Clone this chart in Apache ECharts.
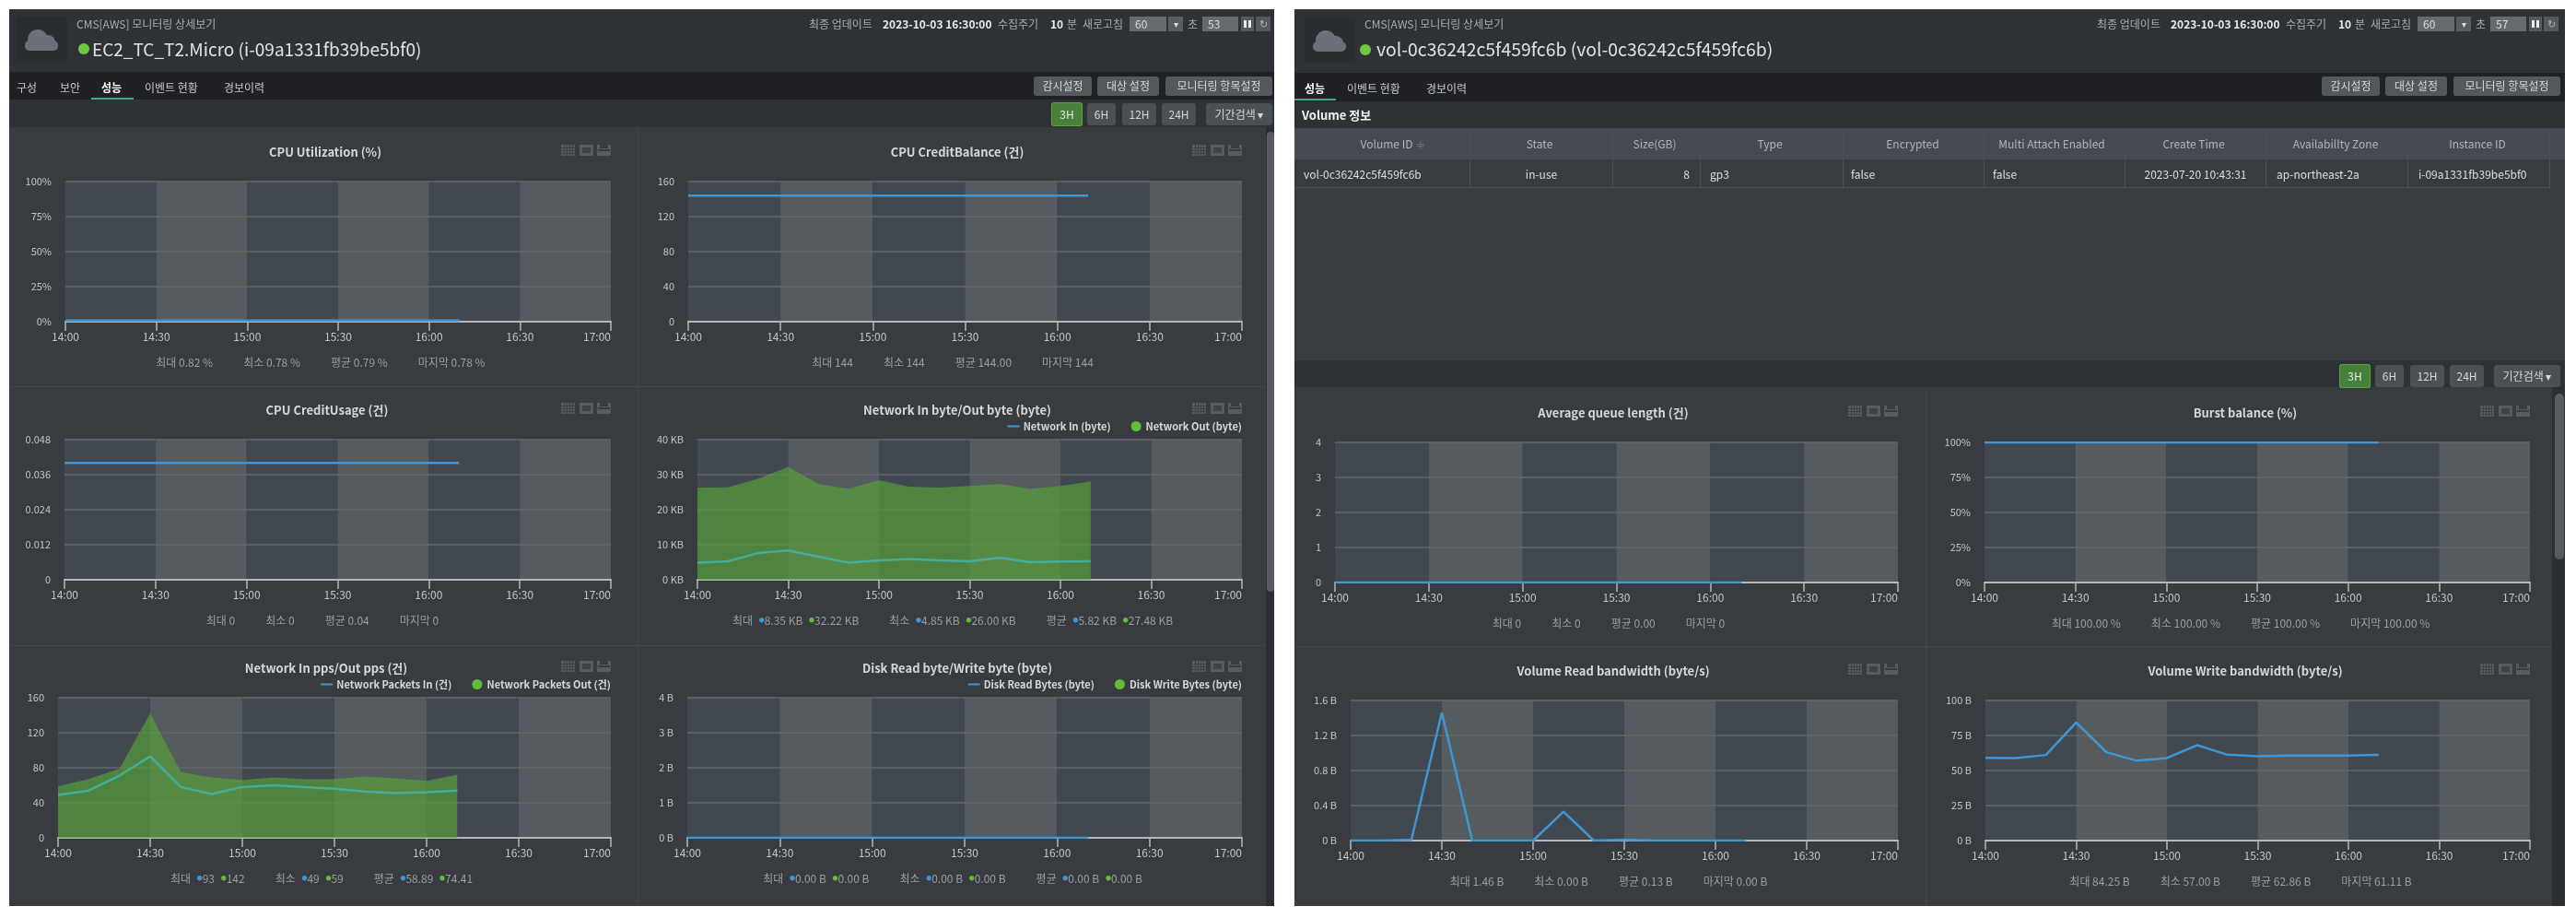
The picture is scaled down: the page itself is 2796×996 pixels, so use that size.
<!DOCTYPE html>
<html>
<head>
<meta charset="utf-8">
<title>CMS[AWS] 모니터링 상세보기</title>
<style>
  html, body { margin: 0; padding: 0; background: #fff; }
  /* the source screenshot is an upscaled capture, so everything sits slightly soft */
  #main { width: 2796px; height: 996px; filter: blur(0.6px); }
</style>
<script src="https://cdn.jsdelivr.net/npm/echarts@6/dist/echarts.min.js"></script>
</head>
<body>
<div id="main"></div>
<script>
// 10 minute samples, axis runs to 17:00 but data stops at 16:10
var timeLabels = ['14:00', '14:10', '14:20', '14:30', '14:40', '14:50', '15:00', '15:10', '15:20', '15:30',
  '15:40', '15:50', '16:00', '16:10', '16:20', '16:30', '16:40', '16:50', '17:00'];

var cpuUtilization = [0.80, 0.79, 0.78, 0.82, 0.80, 0.78, 0.79, 0.78, 0.79, 0.80, 0.78, 0.79, 0.79, 0.78];
var cpuCreditBalance = [144, 144, 144, 144, 144, 144, 144, 144, 144, 144, 144, 144, 144, 144];
var cpuCreditUsage = [0.04, 0.04, 0.04, 0.04, 0.04, 0.04, 0.04, 0.04, 0.04, 0.04, 0.04, 0.04, 0.04, 0.04];
var networkInByte = [4.9, 5.25, 7.6, 8.35, 6.6, 4.85, 5.5, 5.9, 5.5, 5.25, 6.3, 5.0, 5.2, 5.25];
var networkOutByte = [26.3, 26.4, 28.8, 32.22, 27.3, 26.0, 28.4, 26.6, 26.3, 26.8, 27.3, 26.0, 26.8, 28.0];
var networkInPps = [49, 54, 71, 93, 58, 50, 58, 60, 58, 56, 53, 51, 52, 54];
var networkOutPps = [59, 67, 79, 142, 75, 69, 66, 69, 67, 67, 70, 68, 65, 72];
var diskReadBytes = [0, 0, 0, 0, 0, 0, 0, 0, 0, 0, 0, 0, 0, 0];
var diskWriteBytes = [0, 0, 0, 0, 0, 0, 0, 0, 0, 0, 0, 0, 0, 0];
var avgQueueLength = [0, 0, 0, 0, 0, 0, 0, 0, 0, 0, 0, 0, 0, 0];
var burstBalance = [100, 100, 100, 100, 100, 100, 100, 100, 100, 100, 100, 100, 100, 100];
var volumeRead = [0, 0, 0.01, 1.46, 0, 0, 0, 0.33, 0, 0.01, 0, 0, 0, 0];
var volumeWrite = [59.1, 58.9, 61.1, 84.25, 63.1, 57, 58.9, 68.1, 61.3, 60.2, 60.7, 60.7, 60.7, 61.11];

var volumeColumns = ['Volume ID', 'State', 'Size(GB)', 'Type', 'Encrypted', 'Multi Attach Enabled', 'Create Time', 'Availabillty Zone', 'Instance ID'];
var volumeRow = ['vol-0c36242c5f459fc6b', 'in-use', '8', 'gp3', 'false', 'false', '2023-07-20 10:43:31', 'ap-northeast-2a', 'i-09a1331fb39be5bf0'];

var FONT = '"Noto Sans CJK KR", "Noto Sans", sans-serif';
var BLUE = '#3f96d2';
var TEAL = '#45ad9c'; // blue line as it reads through the green area
var GREEN = '#62bd39';

var charts = [
  {title: 'CPU Utilization (%)', x: 71, right: 663, top: 197, cx: 348, unit: '%', max: 100, step: 25,
    lines: [cpuUtilization], stats: [['최대', '0.82 %'], ['최소', '0.78 %'], ['평균', '0.79 %'], ['마지막', '0.78 %']]},
  {title: 'CPU CreditBalance (건)', x: 747, right: 1348, top: 197, cx: 1034, unit: '', max: 160, step: 40,
    lines: [cpuCreditBalance], stats: [['최대', '144'], ['최소', '144'], ['평균', '144.00'], ['마지막', '144']]},
  {title: 'CPU CreditUsage (건)', x: 70, right: 663, top: 477, cx: 350, unit: '', max: 0.048, step: 0.012,
    lines: [cpuCreditUsage], stats: [['최대', '0'], ['최소', '0'], ['평균', '0.04'], ['마지막', '0']]},
  {title: 'Network In byte/Out byte (byte)', x: 757, right: 1348, top: 477, cx: 1034, unit: ' KB', max: 40, step: 10,
    lines: [networkInByte], area: networkOutByte, lineColor: TEAL, names: ['Network In (byte)', 'Network Out (byte)'],
    stats: [['최대', '8.35 KB', '32.22 KB'], ['최소', '4.85 KB', '26.00 KB'], ['평균', '5.82 KB', '27.48 KB']]},
  {title: 'Network In pps/Out pps (건)', x: 63, right: 663, top: 757, cx: 349, unit: '', max: 160, step: 40,
    lines: [networkInPps], area: networkOutPps, lineColor: TEAL, names: ['Network Packets In (건)', 'Network Packets Out (건)'],
    stats: [['최대', '93', '142'], ['최소', '49', '59'], ['평균', '58.89', '74.41']]},
  {title: 'Disk Read byte/Write byte (byte)', x: 746, right: 1348, top: 757, cx: 1034, unit: ' B', max: 4, step: 1,
    lines: [diskReadBytes], area: diskWriteBytes, names: ['Disk Read Bytes (byte)', 'Disk Write Bytes (byte)'],
    stats: [['최대', '0.00 B', '0.00 B'], ['최소', '0.00 B', '0.00 B'], ['평균', '0.00 B', '0.00 B']]},
  {title: 'Average queue length (건)', x: 1449, right: 2060, top: 480, cx: 1746, unit: '', max: 4, step: 1,
    lines: [avgQueueLength], stats: [['최대', '0'], ['최소', '0'], ['평균', '0.00'], ['마지막', '0']]},
  {title: 'Burst balance (%)', x: 2154, right: 2746, top: 480, cx: 2432, unit: '%', max: 100, step: 25,
    lines: [burstBalance], stats: [['최대', '100.00 %'], ['최소', '100.00 %'], ['평균', '100.00 %'], ['마지막', '100.00 %']]},
  {title: 'Volume Read bandwidth (byte/s)', x: 1466, right: 2060, top: 760, cx: 1746, unit: ' B', max: 1.6, step: 0.4,
    lines: [volumeRead], stats: [['최대', '1.46 B'], ['최소', '0.00 B'], ['평균', '0.13 B'], ['마지막', '0.00 B']]},
  {title: 'Volume Write bandwidth (byte/s)', x: 2155, right: 2746, top: 760, cx: 2432, unit: ' B', max: 100, step: 25,
    lines: [volumeWrite], stats: [['최대', '84.25 B'], ['최소', '57.00 B'], ['평균', '62.86 B'], ['마지막', '61.11 B']]}
];

var gfx = [];

function box(x, y, w, h, fill, r, z) {
  gfx.push({type: 'rect', z: z === undefined ? -10 : z, silent: true,
    shape: {x: x, y: y, width: w, height: h, r: r || 0}, style: {fill: fill}});
}

function label(x, y, text, color, size, weight, align) {
  gfx.push({type: 'text', z: 20, silent: true, x: x, y: y, style: {
    text: text, fill: color, fontSize: size, fontWeight: weight || 'normal', fontFamily: FONT,
    align: align || 'left', verticalAlign: 'middle'
  }});
}

function button(x1, x2, y1, y2, text, fill, color) {
  box(x1, y1, x2 - x1, y2 - y1, fill, 3, -5);
  label((x1 + x2) / 2, (y1 + y2) / 2, text, color || '#d5d7d9', 12, 'normal', 'center');
}

function cloudIcon(dx, dy) {
  box(18 + dx, 18 + dy, 55, 49, '#292c31', 0, -5);
  gfx.push({type: 'circle', z: -4, silent: true, shape: {cx: 41 + dx, cy: 43 + dy, r: 11}, style: {fill: '#6d7076'}});
  gfx.push({type: 'circle', z: -4, silent: true, shape: {cx: 52 + dx, cy: 46 + dy, r: 8}, style: {fill: '#6d7076'}});
  box(27 + dx, 44 + dy, 36, 11, '#6d7076', 5, -4);
}

function panelHeader(dx, name, nameSize, seconds, tabs, activeTab, activeX1, activeX2, tabDy) {
  cloudIcon(dx, dx ? 1 : 0);
  label(83 + dx, 26, 'CMS[AWS] 모니터링 상세보기', '#a9abae', 12);
  gfx.push({type: 'circle', z: 20, silent: true, shape: {cx: 91 + dx - (dx ? 7 : 0), cy: 53 + (dx ? 1 : 0), r: 6}, style: {fill: '#6fc83f'}});
  label(100 + dx - (dx ? 4 : 0), 54, name, '#dfe1e3', nameSize);

  tabs.forEach(function (t, i) {
    label(t[0], 95 + tabDy, t[1], i === activeTab ? '#ffffff' : '#c6c8ca', 12, i === activeTab ? 'bold' : 'normal');
  });
  box(activeX1, 106 + tabDy, activeX2 - activeX1, 2, '#3fa98f', 0, -4);

  label(878 + dx, 26, '최종 업데이트', '#a9abae', 12);
  label(958 + dx, 26, '2023-10-03 16:30:00', '#e8e9ea', 12, 'bold');
  label(1083 + dx, 26, '수집주기', '#a9abae', 12);
  label(1140 + dx, 26, '10', '#e8e9ea', 12, 'bold');
  label(1158 + dx, 26, '분', '#a9abae', 12);
  label(1175 + dx, 26, '새로고침', '#a9abae', 12);
  box(1226 + dx, 18, 40, 16, '#66696d', 0, -5);
  label(1232 + dx, 26, '60', '#dcdde0', 12);
  box(1268 + dx, 18, 16, 16, '#5a5d61', 0, -5);
  label(1276 + dx, 26, '▾', '#dcdde0', 10, 'normal', 'center');
  label(1289 + dx, 26, '초', '#a9abae', 12);
  box(1305 + dx, 18, 39, 16, '#66696d', 0, -5);
  label(1311 + dx, 26, seconds, '#dcdde0', 12);
  box(1347 + dx, 18, 14, 16, '#55585c', 0, -5);
  box(1350 + dx, 22, 3, 8, '#e8e9ea', 0, -4);
  box(1355 + dx, 22, 3, 8, '#e8e9ea', 0, -4);
  box(1363 + dx, 18, 16, 16, '#55585c', 0, -5);
  label(1371 + dx, 26, '↻', '#b5b7ba', 11, 'normal', 'center');

  button(1122 + dx, 1185 + dx, 83, 104, '감시설정', '#53585c');
  button(1191 + dx, 1258 + dx, 83, 104, '대상 설정', '#53585c');
  button(1265 + dx, 1381 + dx, 83, 104, '모니터링 항목설정', '#53585c');
}

function rangeButtons(dx, dy) {
  box(1142 + dx - 1, 112 + dy - 1, 34, 26, '#5da63a', 3, -6);
  button(1142 + dx, 1174 + dx, 112 + dy, 136 + dy, '3H', '#47803a', '#e6e8e9');
  button(1180 + dx, 1211 + dx, 112 + dy, 136 + dy, '6H', '#4b5054');
  button(1218 + dx, 1255 + dx, 112 + dy, 136 + dy, '12H', '#4b5054');
  button(1261 + dx, 1298 + dx, 112 + dy, 136 + dy, '24H', '#4b5054');
  button(1309 + dx, 1381 + dx, 112 + dy, 136 + dy, '기간검색 ▾', '#4b5054');
}

function chartIcons(right, y) {
  var lefts = [right - 54, right - 34, right - 15];
  lefts.forEach(function (x) { box(x, y - 6, 15, 12, '#585c60', 1, -3); });
  [3, 6, 9, 12].forEach(function (d) { box(lefts[0] + d, y - 6, 1, 12, '#3f4347', 0, -2); });
  [3, 6, 9].forEach(function (d) { box(lefts[0], y - 6 + d, 15, 1, '#3f4347', 0, -2); });
  box(lefts[1] + 3, y - 3, 9, 6, '#3f4347', 0, -2);
  box(lefts[2] + 3, y - 6, 9, 4, '#383c40', 0, -2);
  box(lefts[2] + 1, y - 1, 13, 2, '#383c40', 0, -2);
}

// stats line under each chart, built as one rich text so it can be centred
function statsLine(cx, y, stats) {
  var two = stats[0].length === 3;
  var parts = stats.map(function (s) {
    if (two) {
      return '{l|' + s[0] + '}  {b|●}{l|' + s[1] + '}  {g|●}{l|' + s[2] + '}';
    }
    return '{l|' + s[0] + ' ' + s[1] + '}';
  });
  gfx.push({type: 'text', z: 20, silent: true, x: cx, y: y, style: {
    text: parts.join('{s|  }'), align: 'center', verticalAlign: 'middle',
    rich: {
      l: {fill: '#9b9ea1', color: '#9b9ea1', fontSize: 12, fontFamily: FONT},
      b: {fill: BLUE, color: BLUE, fontSize: 6, fontFamily: FONT},
      g: {fill: GREEN, color: GREEN, fontSize: 6, fontFamily: FONT},
      s: {fontSize: 12, width: 33, fontFamily: FONT}
    }
  }});
}

// page chrome -----------------------------------------------------------
box(10, 10, 1373, 973, '#383c40');
box(10, 10, 1373, 68, '#2e3237');
box(10, 78, 1373, 30, '#1f2124');
box(10, 108, 1373, 30, '#2e3237');
box(692, 138, 1, 845, '#43474b');
box(10, 419, 1364, 1, '#43474b');
box(10, 700, 1364, 1, '#43474b');
box(1374, 138, 9, 845, '#2b2e33');
box(1375, 143, 8, 499, '#585c60', 4);

box(1405, 10, 1379, 973, '#383c40');
box(1405, 10, 1379, 69, '#2e3237');
box(1405, 79, 1379, 31, '#1f2124');
box(1405, 110, 1379, 29, '#2e3237');
box(1405, 391, 1379, 29, '#2e3237');
box(2090, 420, 1, 563, '#43474b');
box(1405, 701, 1365, 1, '#43474b');
box(2770, 420, 14, 563, '#2b2e33');
box(2773, 427, 10, 180, '#585c60', 5);

panelHeader(0, 'EC2_TC_T2.Micro (i-09a1331fb39be5bf0)', 19, '53',
  [[18, '구성'], [65, '보안'], [110, '성능'], [157, '이벤트 현황'], [243, '경보이력']], 2, 99, 145, 0);
panelHeader(1398, 'vol-0c36242c5f459fc6b (vol-0c36242c5f459fc6b)', 19.4, '57',
  [[1416, '성능'], [1462, '이벤트 현황'], [1548, '경보이력']], 0, 1405, 1450, 1);
rangeButtons(0, 0);
rangeButtons(1398, 284);

// volume table
var colEdges = [1405, 1595, 1750, 1845, 2000, 2153, 2306, 2459, 2613, 2767];
var headCentres = [1505, 1671, 1796, 1921, 2076, 2227, 2381, 2535, 2689];
var cellX = [1415, 1673, 1834, 1856, 2009, 2163, 2383, 2471, 2625];
var cellAlign = ['left', 'center', 'right', 'left', 'left', 'left', 'center', 'left', 'left'];

label(1413, 125, 'Volume 정보', '#f0f1f2', 13, 'bold');
box(1405, 139, 1379, 34, '#454b51');
box(1405, 203, 1362, 1, '#4b5054');
colEdges.slice(1).forEach(function (x) { box(x, 139, 1, 65, '#4b5054', 0, -8); });
volumeColumns.forEach(function (c, i) { label(headCentres[i], 156, c, '#b0b4b8', 12, 'normal', 'center'); });
volumeRow.forEach(function (c, i) { label(cellX[i], 189, c, '#dcdee0', 12, 'normal', cellAlign[i]); });
label(1537, 156, '≑', '#6c7176', 12);

// charts ----------------------------------------------------------------
var grids = [], xAxes = [], yAxes = [], series = [], titles = [], legends = [];

charts.forEach(function (c, i) {
  var bottom = c.top + 152;
  grids.push({left: c.x, top: c.top, width: c.right - c.x, height: 152});

  xAxes.push({
    gridIndex: i, type: 'category', boundaryGap: false, data: timeLabels, z: 0,
    axisLine: {lineStyle: {color: '#b4b8bd', width: 2}},
    axisTick: {show: true, interval: 2, length: 10, lineStyle: {color: '#b4b8bd', width: 1.5}},
    axisLabel: {interval: 2, color: '#c2c4c7', fontSize: 12, margin: 10, fontFamily: FONT, alignMaxLabel: 'right'},
    splitLine: {show: false},
    splitArea: {show: true, interval: 2, areaStyle: {color: ['#41484f', '#565b5f']}}
  });

  // z above the x axis so the grid lines are not hidden by the bands
  yAxes.push({
    gridIndex: i, type: 'value', min: 0, max: c.max, interval: c.step, z: 1,
    axisLine: {show: false}, axisTick: {show: false},
    axisLabel: {
      color: '#c2c4c7', fontSize: 11, margin: 15, fontFamily: FONT,
      formatter: function (v) { return v + c.unit; }
    },
    splitLine: {show: true, showMinLine: false, lineStyle: {color: '#62676b', width: 1.5}}
  });

  titles.push({
    text: c.title, left: c.cx, top: c.top - 43, textAlign: 'center',
    textStyle: {color: '#d5d7d9', fontSize: 13, fontWeight: 'bold', fontFamily: FONT}
  });

  if (c.area) {
    series.push({
      name: c.names[1], type: 'line', xAxisIndex: i, yAxisIndex: i, data: c.area, showSymbol: false,
      lineStyle: {width: 0}, itemStyle: {color: GREEN},
      areaStyle: {color: '#56a139', opacity: 0.67}, z: 3
    });
    legends.push({
      right: 2796 - c.right, top: c.top - 20, itemGap: 22, itemWidth: 13, itemHeight: 11, padding: 0,
      data: [
        {name: c.names[0], icon: 'path://M0,42H100V58H0Z'},
        {name: c.names[1], icon: 'circle'}
      ],
      selectedMode: false,
      textStyle: {color: '#d5d7d9', fontSize: 11, fontWeight: 'bold', fontFamily: FONT, padding: [0, 0, 0, -1]}
    });
  }

  c.lines.forEach(function (d) {
    series.push({
      name: c.names ? c.names[0] : c.title, type: 'line', xAxisIndex: i, yAxisIndex: i, data: d, showSymbol: false,
      lineStyle: {color: c.lineColor || BLUE, width: 2.5},
      itemStyle: {color: BLUE}, z: 4
    });
  });

  chartIcons(c.right, c.top - 34);
  statsLine(c.cx, bottom + 44, c.stats);
});

var chart = echarts.init(document.getElementById('main'), null, {width: 2796, height: 996});
chart.setOption({
  animation: false,
  backgroundColor: '#ffffff',
  title: titles,
  legend: legends,
  grid: grids,
  xAxis: xAxes,
  yAxis: yAxes,
  series: series,
  graphic: {elements: gfx}
});
</script>
</body>
</html>
